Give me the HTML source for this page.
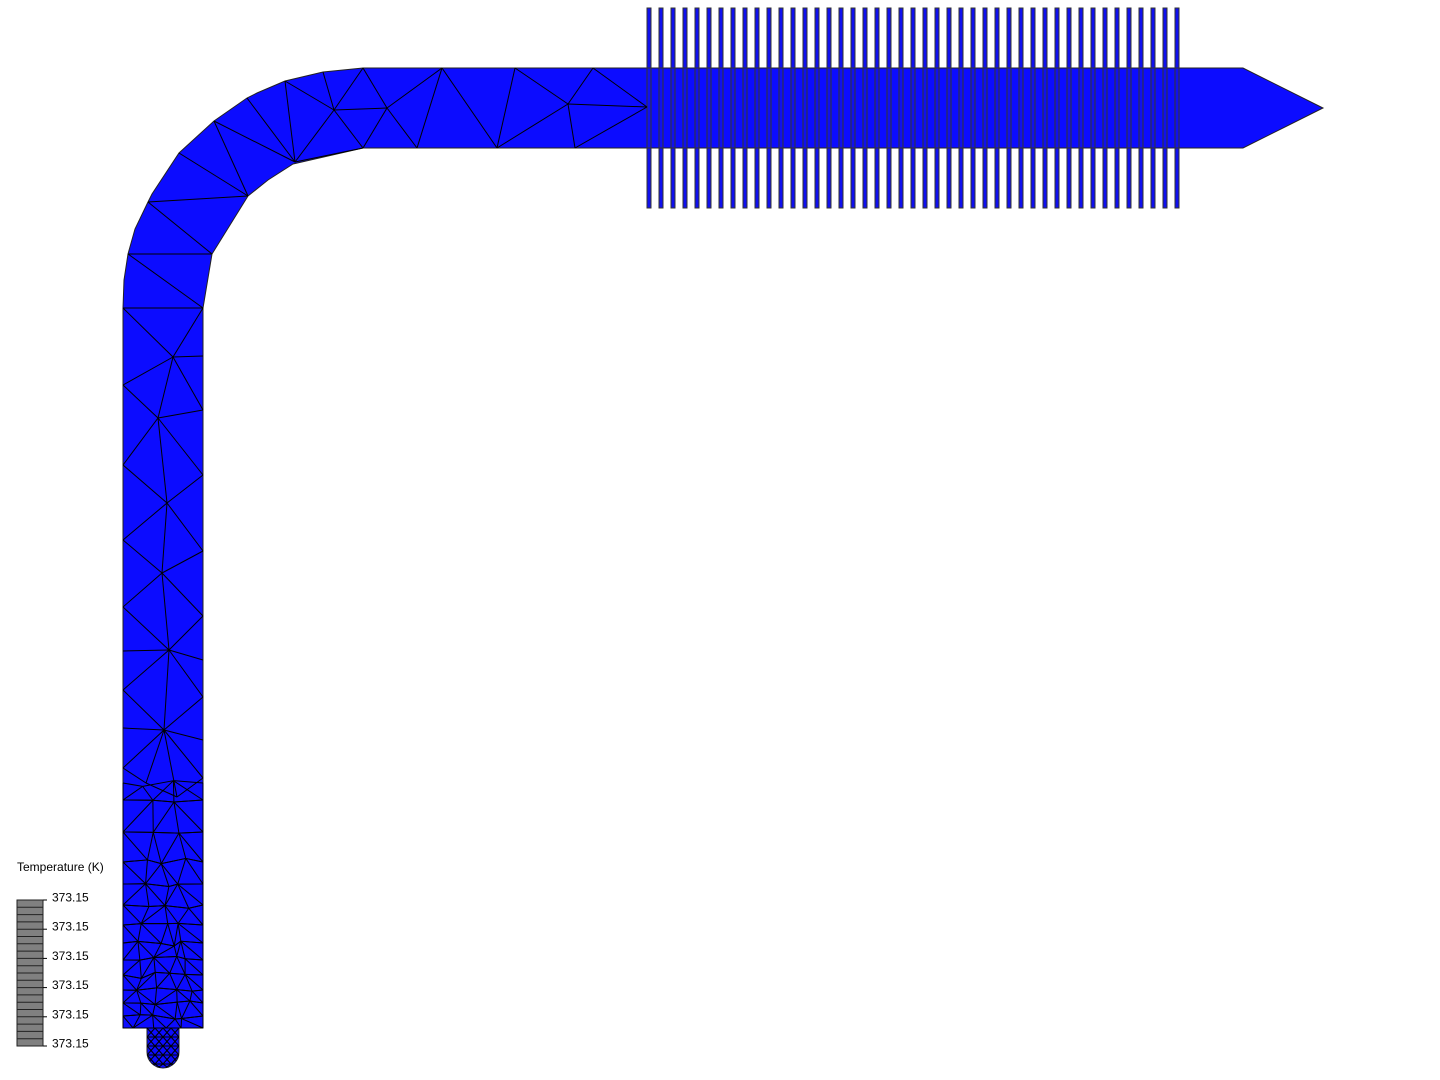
<!DOCTYPE html>
<html><head><meta charset="utf-8"><style>
html,body{margin:0;padding:0;background:#fff;width:1440px;height:1080px;overflow:hidden}
svg{position:absolute;left:0;top:0}
text{font-family:"Liberation Sans",sans-serif;font-size:12px;fill:#000}
</style></head><body>
<svg id="s" width="1440" height="1080" viewBox="0 0 1440 1080">
<defs><clipPath id="cs"><path d="M147,1028 L179,1028 L179,1052 A16,16 0 0 1 147,1052 Z"/></clipPath></defs>
<g id="fins" fill="#1010ee" stroke="#333" stroke-width="1"></g>
<path d="M123,1028 L123,308 L124,280 L128,254 L135,229 L148,202 L152,194 L179,153 L214,121 L247,98 L257,93 L285,81 L323,72 L363,68 L1243,68 L1323,108 L1243,148 L363,148 L293,164 L268,180 L248,196 L212,254 L203,308 L203,1028 Z" fill="#0c0cff" stroke="#222" stroke-width="1"/>
<path d="M147,1028 L179,1028 L179,1052 A16,16 0 0 1 147,1052 Z" fill="#0c0cff" stroke="#222" stroke-width="1"/>
<g id="finov" fill="#1010ee" stroke="#333" stroke-width="1" opacity="1"></g>
<g id="mesh" stroke="#000" stroke-width="1" fill="none"></g>
<g id="smesh" stroke="#000" stroke-width="1" fill="none" clip-path="url(#cs)"></g>
<g id="leg"></g>
<text x="17" y="871">Temperature (K)</text>
</svg>
<script>
var ns="http://www.w3.org/2000/svg";
function el(p,t,a){var e=document.createElementNS(ns,t);for(var k in a)e.setAttribute(k,a[k]);p.appendChild(e);return e;}
var fins=document.getElementById('fins'),fo=document.getElementById('finov');
for(var i=0;i<45;i++){var x=647+i*12;el(fins,'rect',{x:x,y:8,width:4,height:200});el(fo,'rect',{x:x,y:68,width:4,height:80});}
var m=document.getElementById('mesh');
function L(a,b,c,d,p){el(p||m,'line',{x1:a,y1:b,x2:c,y2:d});}
var E=[[123,308,203,308],[123,308,173,357],[203,308,173,357],[173,357,203,356],[173,357,123,385],[173,357,158,418],[173,357,203,410],[123,385,158,418],[158,418,203,410],[158,418,123,465],[158,418,203,475],[158,418,167,503],[123,465,167,503],[203,475,167,503],[167,503,123,540],[167,503,203,551],[167,503,162,573],[123,540,162,573],[203,551,162,573],[162,573,123,607],[162,573,203,616],[162,573,169,650],[123,607,169,650],[203,616,169,650],[169,650,123,651],[169,650,203,660],[169,650,123,690],[169,650,203,697],[169,650,164,730],[123,690,164,730],[203,697,164,730],[164,730,123,728],[164,730,203,740],[164,730,123,768],[164,730,146,783],[164,730,177,797],[164,730,203,778],
[128,254,212,254],[128,254,203,308],[148,202,212,254],[148,202,248,196],[179,153,248,196],[214,121,248,196],[214,121,295,162],[247,98,295,162],[285,81,295,162],[285,81,334,110],[323,72,334,110],[334,110,363,68],[334,110,295,162],[334,110,387,108],[334,110,363,148],[387,108,363,68],[387,108,442,68],[387,108,363,148],[387,108,417,148],[295,162,363,148],[442,68,417,148],[442,68,497,148],[515,68,497,148],[515,68,568,104],[497,148,568,104],[568,104,593,68],[568,104,575,148],[568,104,647,107],[593,68,647,107],[575,148,647,107]];
E.forEach(function(e){L(e[0],e[1],e[2],e[3]);});
var seed=7;function r(){seed=(seed*16807)%2147483647;return seed/2147483647;}
var ys=[783,800,832,862,884,905,925,943,960,975,990,1003,1016,1028];
var rows=[];
for(var j=0;j<ys.length;j++){var n=j<3?3:(j<7?4:5);var row=[];for(var k=0;k<=n;k++){var x=123+80*k/n;var y=ys[j];if(k>0&&k<n){x+=(r()-.5)*14;if(j<ys.length-1)y+=(r()-.5)*8;}row.push([x,y]);}rows.push(row);}
for(var j=0;j<rows.length-1;j++){var A=rows[j],B=rows[j+1];var a=0,b=0;
 while(a<A.length-1||b<B.length-1){L(A[a][0],A[a][1],B[b][0],B[b][1]);
  if(a<A.length-1&&(b>=B.length-1||A[a+1][0]<B[b+1][0])){L(A[a][0],A[a][1],A[a+1][0],A[a+1][1]);a++;}else{L(B[b][0],B[b][1],B[b+1][0],B[b+1][1]);b++;}}
 L(A[a][0],A[a][1],B[b][0],B[b][1]);}
L(123,768,146,783);L(203,778,177,797);L(146,783,177,797);
var sm=document.getElementById('smesh');
var sy=[1028,1037,1046,1055,1064,1070];
for(var j=0;j<sy.length-1;j++){var xs=[147,155,163,171,179];for(var k=0;k<4;k++){L(xs[k],sy[j],xs[k+1],sy[j+1],sm);L(xs[k+1],sy[j],xs[k],sy[j+1],sm);}}
for(var j=1;j<sy.length-1;j++)L(147,sy[j],179,sy[j],sm);
var g=document.getElementById('leg');
el(g,'rect',{x:17,y:900,width:26,height:146,fill:'#808080',stroke:'#222','stroke-width':1});
for(var k=1;k<20;k++){var y=900+k*146/20;el(g,'line',{x1:17,y1:y,x2:43,y2:y,stroke:'#222','stroke-width':1});}
for(var k=0;k<6;k++){var y=900+k*29.2;el(g,'line',{x1:43,y1:y,x2:47,y2:y,stroke:'#000'});var t=el(g,'text',{x:52,y:y+1.5});t.textContent='373.15';}
</script>
</body></html>
